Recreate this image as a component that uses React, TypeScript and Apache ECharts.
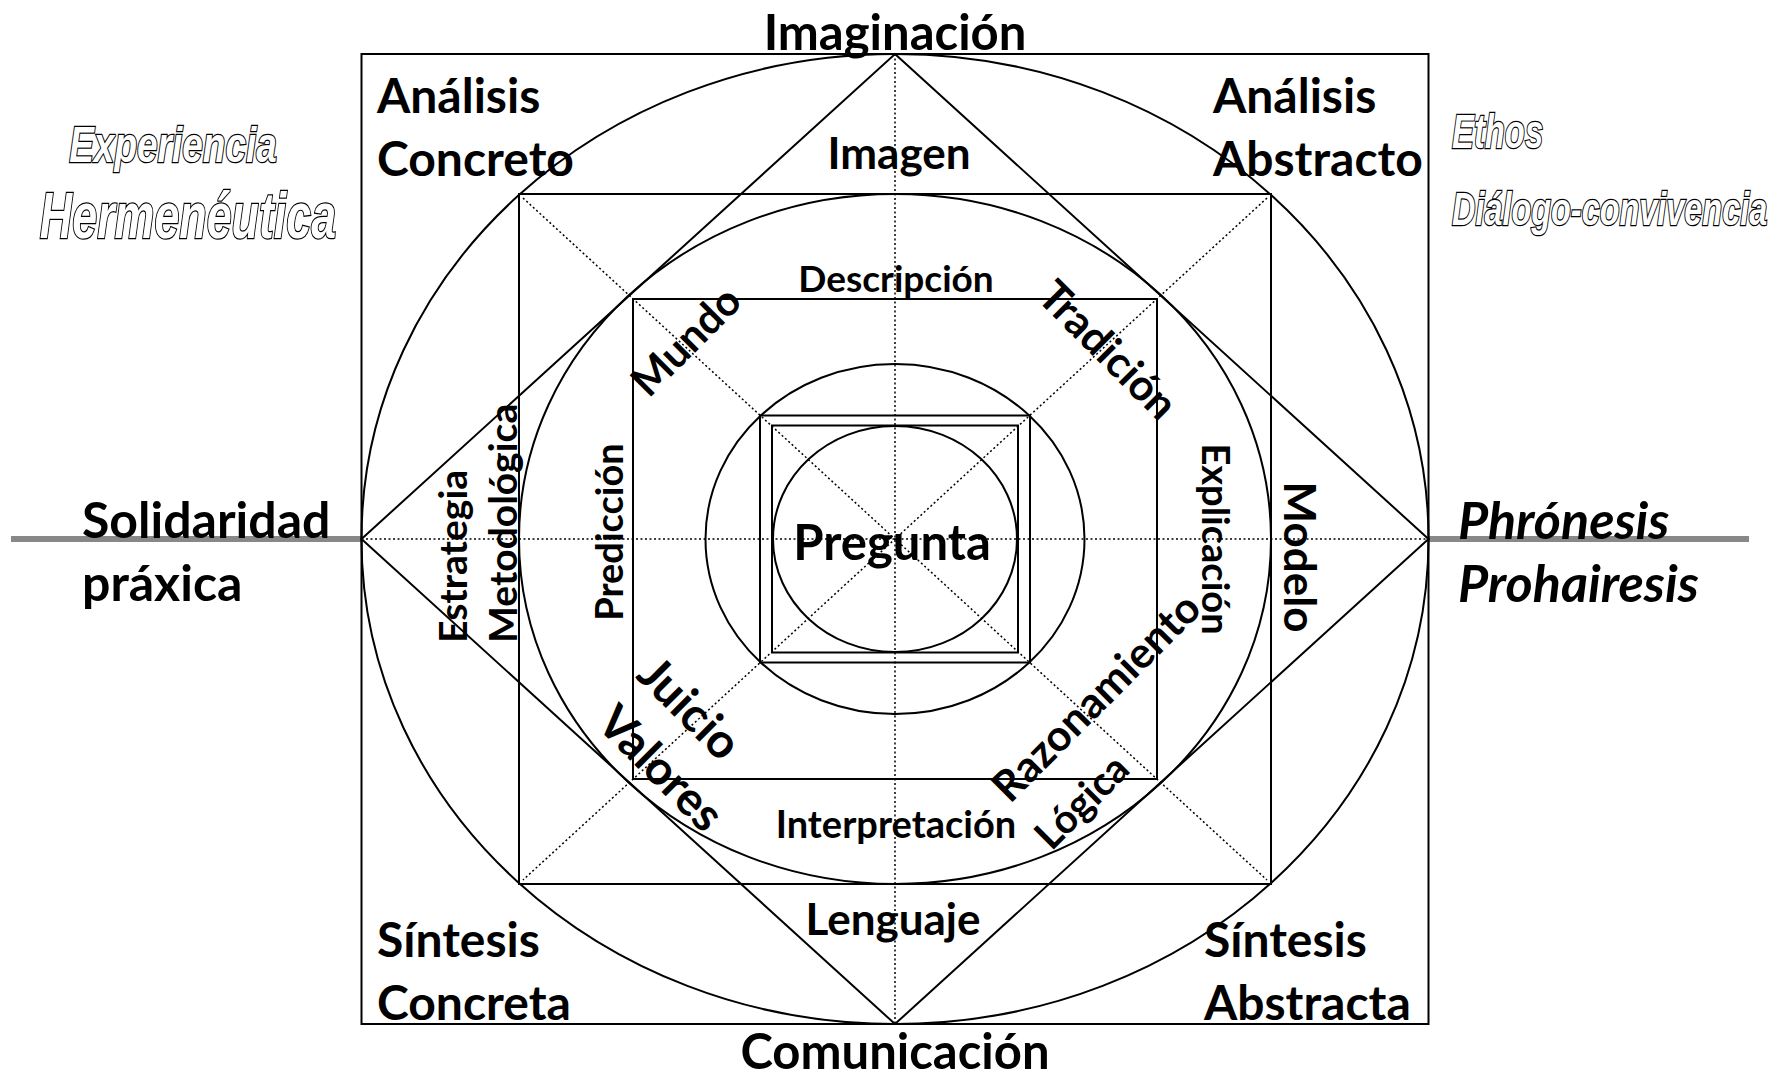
import React, { useEffect, useRef } from "react";
import * as echarts from "echarts";

const W = 1789;
const H = 1079;
const CX = 895;
const CY = 539;

// nested rectangles: half width / half height around the centre
const rectHalfW = [533.5, 376, 262, 135, 123];
const rectHalfH = [485, 345, 240, 123.5, 113.5];
// nested ellipses: radii
const ellipseRx = [533.5, 376, 189.5, 122];
const ellipseRy = [485, 345, 175, 113];
// diamond vertices (relative to centre)
const diamondX = [0, 533.5, 0, -533.5];
const diamondY = [-485, 0, 485, 0];
// dotted guides [x1, y1, x2, y2] relative to centre
const guideLines = [
  [-533.5, 0, 533.5, 0],
  [0, -485, 0, 485],
  [-372, -341, 372, 341],
  [372, -341, -372, 341],
];
// grey horizontal axis pieces [x1, x2] at centre height
const axisPieces = [
  [11, 362],
  [1429, 1749],
];

// labels
const labelTexts = [
  "Imaginación", "Comunicación",
  "Análisis", "Concreto", "Análisis", "Abstracto",
  "Síntesis", "Concreta", "Síntesis", "Abstracta",
  "Solidaridad", "práxica", "Phrónesis", "Prohairesis",
  "Experiencia", "Hermenéutica", "Ethos", "Diálogo-convivencia",
  "Imagen", "Descripción", "Interpretación", "Lenguaje", "Pregunta",
  "Predicción", "Explicación", "Modelo", "Estrategia", "Metodológica",
  "Mundo", "Tradición", "Juicio", "Valores", "Razonamiento", "Lógica",
];
const labelX = [
  895, 895,
  377, 377, 1213, 1213,
  377, 377, 1204, 1204,
  82, 82, 1458, 1458,
  173, 188, 1452, 1452,
  899, 896, 896, 893, 892,
  608, 1217, 1301, 452, 502,
  685, 1109, 691, 662, 1095, 1081,
];
const labelY = [
  31, 1050,
  94, 157, 94, 157,
  938, 1001, 938, 1001,
  519, 582, 519, 582,
  144, 216, 131, 209,
  152, 277, 823, 918, 541,
  532, 539, 557, 643, 643,
  340, 349, 707, 767, 696, 801,
];
const labelSize = [
  49, 49,
  48, 48, 48, 48,
  48, 48, 48, 48,
  50, 50, 52, 52,
  50, 64, 49, 47,
  44, 37, 38, 44, 49,
  38, 38, 44, 39, 39,
  42, 43, 48, 47, 43, 40,
];
const labelScaleX = [
  1, 1,
  1, 1, 1, 1,
  1, 1, 1, 1,
  1, 1, 1, 1,
  0.74, 0.7, 0.67, 0.69,
  1, 1, 1, 1, 1,
  1, 1, 1, 1, 1,
  1, 1, 1, 1, 1, 1,
];
const labelAngle = [
  0, 0,
  0, 0, 0, 0,
  0, 0, 0, 0,
  0, 0, 0, 0,
  0, 0, 0, 0,
  0, 0, 0, 0, 0,
  90, -90, -90, 90, 90,
  45, -45, -45, -45, 45, 45,
];
const labelAlign = [
  "center", "center",
  "left", "left", "left", "left",
  "left", "left", "left", "left",
  "left", "left", "left", "left",
  "center", "center", "left", "left",
  "center", "center", "center", "center", "center",
  "center", "center", "center", "left", "left",
  "center", "center", "center", "center", "center", "center",
];
// 0 = bold, 1 = bold italic, 2 = outlined italic condensed
const labelKind = [
  0, 0,
  0, 0, 0, 0,
  0, 0, 0, 0,
  0, 0, 1, 1,
  2, 2, 2, 2,
  0, 0, 0, 0, 0,
  0, 0, 0, 0, 0,
  0, 0, 0, 0, 0, 0,
];

const FONT = "Lato, 'Open Sans', sans-serif";
const NARROW = "'Liberation Sans', Arial, sans-serif";

export default function App() {
  const ref = useRef<HTMLDivElement>(null);
  useEffect(() => {
    if (!ref.current) return;
    const chart = echarts.init(ref.current, undefined, { renderer: "svg" });
    const stroke = { stroke: "#000", lineWidth: 2, fill: "none" };

    const option: any = {
      animation: false,
      backgroundColor: "#fff",
      grid: { left: 0, top: 0, right: 0, bottom: 0 },
      xAxis: { type: "value", min: 0, max: W, show: false },
      yAxis: { type: "value", min: 0, max: H, inverse: true, show: false },
      series: [
        {
          type: "custom",
          name: "axis",
          silent: true,
          clip: false,
          data: axisPieces.map((p) => [p[0], CY, p[1], CY]),
          renderItem: (params: any, api: any) => {
            const a = api.coord([api.value(0), api.value(1)]);
            const b = api.coord([api.value(2), api.value(3)]);
            return {
              type: "line",
              shape: { x1: a[0], y1: a[1], x2: b[0], y2: b[1] },
              style: { stroke: "#888", lineWidth: 6 },
            };
          },
        },
        {
          type: "custom",
          name: "guides",
          silent: true,
          clip: false,
          data: guideLines.map((g) => [CX + g[0], CY + g[1], CX + g[2], CY + g[3]]),
          renderItem: (params: any, api: any) => {
            const a = api.coord([api.value(0), api.value(1)]);
            const b = api.coord([api.value(2), api.value(3)]);
            return {
              type: "line",
              shape: { x1: a[0], y1: a[1], x2: b[0], y2: b[1] },
              style: { stroke: "#000", lineWidth: 1.5, lineDash: [2, 2.5] },
            };
          },
        },
        {
          type: "custom",
          name: "rects",
          silent: true,
          clip: false,
          data: rectHalfW.map((hw, i) => [CX - hw, CY - rectHalfH[i], CX + hw, CY + rectHalfH[i]]),
          renderItem: (params: any, api: any) => {
            const a = api.coord([api.value(0), api.value(1)]);
            const b = api.coord([api.value(2), api.value(3)]);
            return {
              type: "rect",
              shape: { x: a[0], y: a[1], width: b[0] - a[0], height: b[1] - a[1] },
              style: stroke,
            };
          },
        },
        {
          type: "custom",
          name: "ellipses",
          silent: true,
          clip: false,
          data: ellipseRx.map((rx, i) => [CX, CY, rx, ellipseRy[i]]),
          renderItem: (params: any, api: any) => {
            const c = api.coord([api.value(0), api.value(1)]);
            const s = api.size([api.value(2), api.value(3)]);
            return {
              type: "ellipse",
              shape: { cx: c[0], cy: c[1], rx: s[0], ry: s[1] },
              style: stroke,
            };
          },
        },
        {
          type: "custom",
          name: "diamond",
          silent: true,
          clip: false,
          data: [diamondX.map((x, i) => [CX + x, CY + diamondY[i]]).flat()],
          renderItem: (params: any, api: any) => {
            const pts = [];
            for (let i = 0; i < 4; i++) {
              pts.push(api.coord([api.value(i * 2), api.value(i * 2 + 1)]));
            }
            return {
              type: "polygon",
              shape: { points: pts },
              style: stroke,
            };
          },
        },
        {
          type: "custom",
          name: "labels",
          silent: true,
          clip: false,
          z: 10,
          data: labelX.map((x, i) => [x, labelY[i]]),
          renderItem: (params: any, api: any) => {
            const i = params.dataIndex;
            const p = api.coord([api.value(0), api.value(1)]);
            const kind = labelKind[i];
            const style: any = {
              text: labelTexts[i],
              fontSize: labelSize[i],
              fontFamily: kind === 2 ? NARROW : FONT,
              fontWeight: "bold",
              fontStyle: kind === 0 ? "normal" : "italic",
              fill: kind === 2 ? "#fff" : "#000",
              align: labelAlign[i],
              verticalAlign: "middle",
            };
            if (kind === 2) {
              style.stroke = "#000";
              style.lineWidth = 2.5;
            }
            return {
              type: "text",
              x: p[0],
              y: p[1],
              scaleX: labelScaleX[i],
              rotation: (labelAngle[i] * Math.PI) / 180,
              style,
            };
          },
        },
      ],
    };
    chart.setOption(option);
    return () => chart.dispose();
  }, []);
  return (
    <div
      ref={ref}
      style={{ position: "fixed", left: 0, top: 0, width: W, height: H, background: "#fff" }}
    />
  );
}
